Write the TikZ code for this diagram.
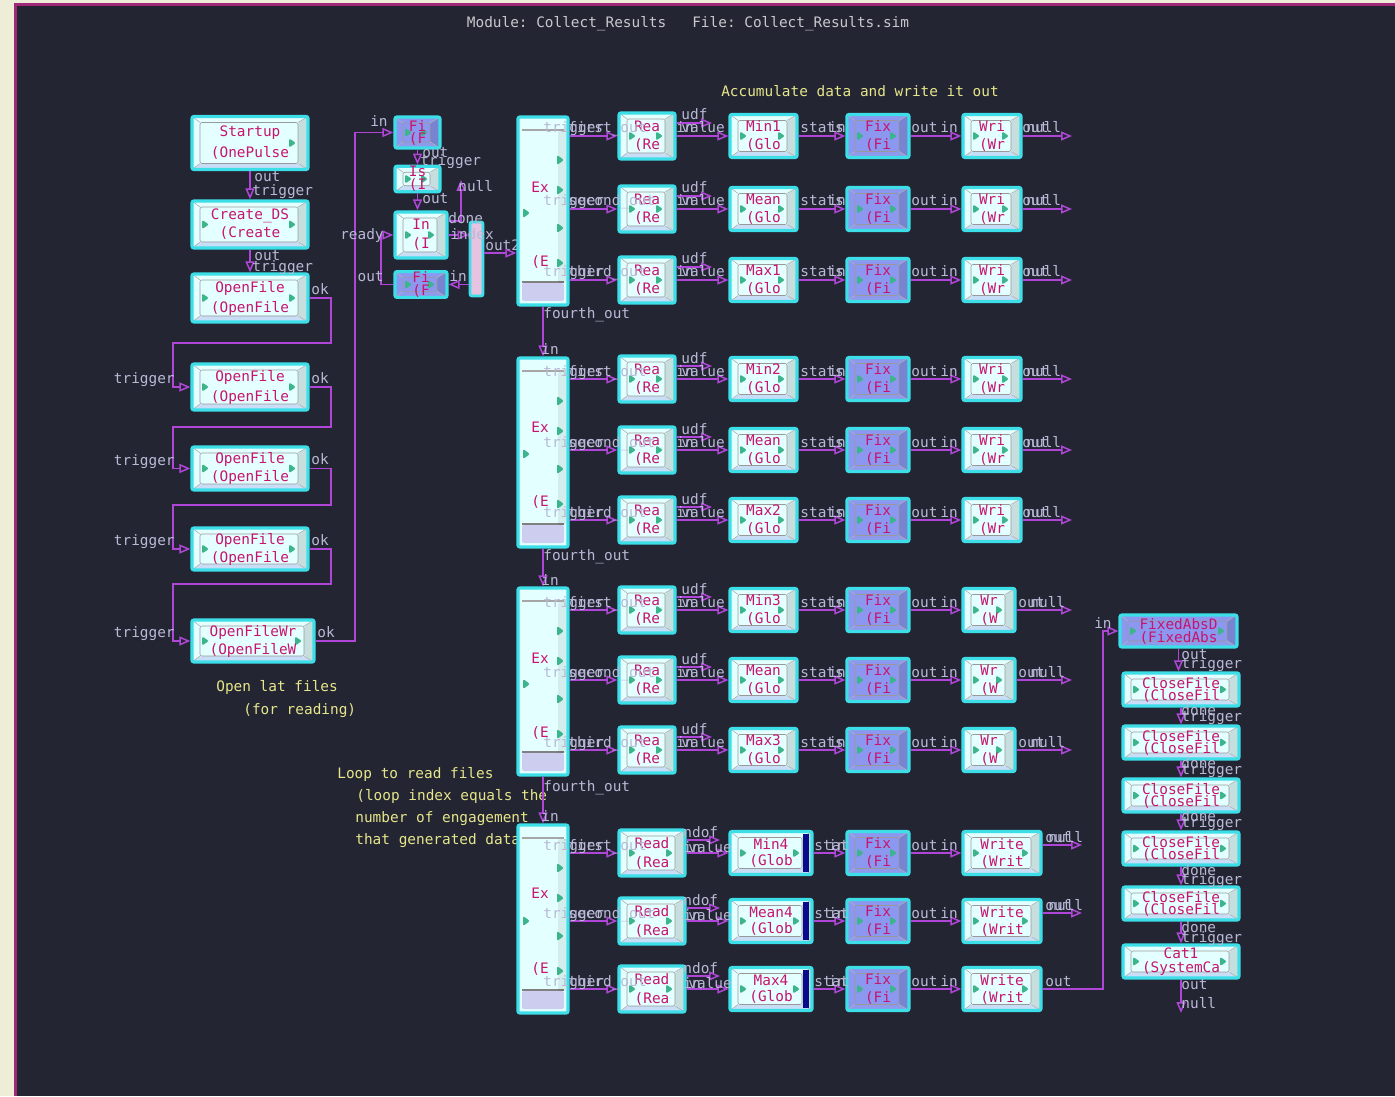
\documentclass[tikz,border=0pt]{standalone}
\usepackage{fontspec}
\newfontfamily\mono{DejaVu Sans Mono}
\usetikzlibrary{arrows.meta}
\frenchspacing
\definecolor{bgc}{RGB}{36,37,50}
\definecolor{beige}{RGB}{238,238,216}
\definecolor{framec}{RGB}{160,40,120}
\definecolor{cyanb}{RGB}{60,222,232}
\definecolor{boxf}{RGB}{228,255,255}
\definecolor{fixf}{RGB}{140,152,240}
\definecolor{boxt}{RGB}{200,20,110}
\definecolor{lblc}{RGB}{185,185,215}
\definecolor{wirec}{RGB}{175,70,215}
\definecolor{annc}{RGB}{230,230,140}
\definecolor{ttlc}{RGB}{200,200,205}
\definecolor{tric}{RGB}{60,180,140}
\definecolor{bevb}{RGB}{150,160,230}
\definecolor{exband}{RGB}{205,205,240}
\definecolor{barf}{RGB}{230,195,225}
\definecolor{navyc}{RGB}{10,10,140}
\newcommand\bevelpic[1]{%
\coordinate (PA) at (path picture bounding box.south west);
\coordinate (PB) at (path picture bounding box.north east);
\coordinate (PC) at (path picture bounding box.south east);
\coordinate (PD) at (path picture bounding box.north west);
\fill[black,opacity=.13] (PB) -- ([shift={(-5pt,-3pt)}]PB) -- ([shift={(-5pt,3pt)}]PC) -- (PC) -- cycle;
\fill[bevb,opacity=.35] (PA) -- ([shift={(4pt,3pt)}]PA) -- ([shift={(-5pt,3pt)}]PC) -- (PC) -- cycle;
\draw[black!40,line width=.3pt] ([shift={(4pt,3pt)}]PA) rectangle ([shift={(-5pt,-3pt)}]PB);
\draw[black!30,line width=.3pt] (PA) -- ([shift={(4pt,3pt)}]PA) (PB) -- ([shift={(-5pt,-3pt)}]PB) (PC) -- ([shift={(-5pt,3pt)}]PC) (PD) -- ([shift={(4pt,-3pt)}]PD);
\fill[tric] ([xshift=-6pt]path picture bounding box.east) -- ++(-3.5pt,2.3pt) -- ++(0,-4.6pt) -- cycle;
\ifnum#1=1 \fill[tric] ([xshift=8.5pt]path picture bounding box.west) -- ++(-3.5pt,2.3pt) -- ++(0,-4.6pt) -- cycle;\fi
}
\newcommand\expic{%
\coordinate (PA) at (path picture bounding box.south west);
\coordinate (PB) at (path picture bounding box.north east);
\coordinate (PC) at (path picture bounding box.south east);
\coordinate (PD) at (path picture bounding box.north west);
\fill[exband] ([shift={(2pt,2pt)}]PA) rectangle ([shift={(-2pt,11pt)}]PC);
\draw[black!50,line width=1pt] ([shift={(2pt,11.5pt)}]PA) -- ([shift={(-2pt,11.5pt)}]PC);
\draw[black!35,line width=1pt] ([shift={(2pt,-6.5pt)}]PD) -- ([shift={(-2pt,-6.5pt)}]PB);
\fill[black,opacity=.07] ([shift={(-5pt,-7pt)}]PB) rectangle ([shift={(-1pt,11pt)}]PC);
\foreach \o in {21.5,36.5,55.5,73}{\fill[tric] ([shift={(-2pt,-\o pt)}]PB) -- ++(-3.5pt,2.5pt) -- ++(0,-5pt) -- cycle;}
\fill[tric] ([shift={(6pt,-48pt)}]PD) -- ++(-3.5pt,2.5pt) -- ++(0,-5pt) -- cycle;
}
\tikzset{
  blk/.style={draw=cyanb, line width=1.6pt, rounded corners=1pt, fill=boxf, text=boxt,
    font=\mono\fontsize{7.2}{9}\selectfont, align=center, inner sep=0pt, path picture={\bevelpic{1}}},
  blkn/.style={blk, path picture={\bevelpic{0}}},
  fixb/.style={blk, fill=fixf},
  exb/.style={draw=cyanb, line width=1.6pt, rounded corners=1pt, fill=boxf, inner sep=0pt, path picture={\expic}},
  barb/.style={draw=cyanb, line width=1.4pt, rounded corners=1pt, fill=barf, inner sep=0pt},
  tight/.style={font=\mono\fontsize{7.2}{6}\selectfont},
  boxtxt/.style={text=boxt, font=\mono\fontsize{7.2}{9}\selectfont, inner sep=0pt},
  wire/.style={draw=wirec, line width=0.75pt},
  arr/.style={-{Triangle[open,length=5.5pt,width=4.5pt]}},
  lbl/.style={text=lblc, font=\mono\fontsize{7.2}{8}\selectfont, inner sep=0pt},
  ann/.style={text=annc, font=\mono\fontsize{7.2}{8}\selectfont, inner sep=0pt},
  ttl/.style={text=ttlc, font=\mono\fontsize{7.2}{8}\selectfont, inner sep=0pt}
}
\newcommand\myrow[6]{%
 \node[blk, minimum width=28pt, minimum height=23pt] (rea#1) at (647,#2) {Rea\\(Re};
 \node[blk, minimum width=33.5pt, minimum height=21.5pt] (st#1) at (763.5,#2) {#3\\(Glo};
 \node[fixb, minimum width=31pt, minimum height=21.5pt] (fx#1) at (878,#2) {Fix\\(Fi};
 \ifnum#6=0
   \node[blk, minimum width=29pt, minimum height=21.5pt] (wr#1) at (992,#2) {Wri\\(Wr};
 \else
   \node[blk, minimum width=26pt, minimum height=21.5pt] (wr#1) at (989,#2) {Wr\\(W};
 \fi
 \coordinate (udf#1) at (712,#2-13);
 \coordinate (nul#1) at (1072,#2);
 \draw[wire,arr] (#4.east |- rea#1.west) -- (rea#1.west);
 \draw[wire,arr] (rea#1.east |- udf#1) -- (udf#1);
 \draw[wire,arr] (rea#1.east) -- (st#1.west);
 \draw[wire,arr] (st#1.east) -- (fx#1.west);
 \draw[wire,arr] (fx#1.east) -- (wr#1.west);
 \draw[wire,arr] (wr#1.east) -- (nul#1);
 \node[lbl,anchor=base west] (ltr#1) at (543,#2-3) {trigger};
 \node[lbl,anchor=base west] (lfo#1) at (568,#2-3) {#5};
 \node[lbl,anchor=base west] (ludf#1) at (681,#2-16) {udf};
 \node[lbl,anchor=base west] (lin#1) at (676,#2-3) {in};
 \node[lbl,anchor=base west] (lval#1) at (681,#2-3) {value};
 \node[lbl,anchor=base west] (lst#1) at (800,#2-3) {stats};
 \node[lbl,anchor=base west] (lsi#1) at (828,#2-3) {in};
 \node[lbl,anchor=base west] (lfx#1) at (911,#2-3) {out};
 \node[lbl,anchor=base west] (lfi#1) at (940,#2-3) {in};
 \ifnum#6=0
   \node[lbl,anchor=base west] (lno#1) at (1022,#2-3) {out};
   \node[lbl,anchor=base west] (lnu#1) at (1026,#2-3) {null};
 \else
   \node[lbl,anchor=base west] (lno#1) at (1018,#2-3) {out};
   \node[lbl,anchor=base west] (lnu#1) at (1030,#2-3) {null};
 \fi
}
\newcommand\myrowb[5]{%
 \node[blk, minimum width=33pt, minimum height=23pt, font=\mono\fontsize{7.2}{9.5}\selectfont] (rea#1) at (652,#2) {Read\\(Rea};
 \node[blk, minimum width=41pt, minimum height=21.5pt, font=\mono\fontsize{7.2}{8}\selectfont] (st#1) at (771,#2) {#3\\(Glob};
 \fill[navyc] ([shift={(-5.5pt,-2pt)}]st#1.north east) rectangle ([shift={(-2.5pt,2pt)}]st#1.south east);
 \node[fixb, minimum width=31pt, minimum height=21.5pt] (fx#1) at (878,#2) {Fix\\(Fi};
 \node[blk, minimum width=39pt, minimum height=21.5pt, font=\mono\fontsize{7.2}{8.5}\selectfont] (wr#1) at (1002,#2) {Write\\(Writ};
 \coordinate (udf#1) at (720,#2-13);
 \draw[wire,arr] (ex4.east |- rea#1.west) -- (rea#1.west);
 \draw[wire,arr] (rea#1.east |- udf#1) -- (udf#1);
 \draw[wire,arr] (rea#1.east) -- (st#1.west);
 \draw[wire,arr] (st#1.east) -- (fx#1.west);
 \draw[wire,arr] (fx#1.east) -- (wr#1.west);
 \node[lbl,anchor=base west] (ltr#1) at (543,#2-3) {trigger};
 \node[lbl,anchor=base west] (lfo#1) at (568,#2-3) {#4};
 \node[lbl,anchor=base west] (ludf#1) at (683,#2-16) {ndof};
 \node[lbl,anchor=base west] (lin#1) at (683,#2-1) {in};
 \node[lbl,anchor=base west] (lval#1) at (688,#2-1) {value};
 \node[lbl,anchor=base west] (lst#1) at (814,#2-3) {stat};
 \node[lbl,anchor=base west] (lsi#1) at (828,#2-3) {in};
 \node[lbl,anchor=base west] (lfx#1) at (911,#2-3) {out};
 \node[lbl,anchor=base west] (lfi#1) at (940,#2-3) {in};
 \ifnum#5=0
   \coordinate (nul#1) at (1082,#2-8);
   \draw[wire,arr] (wr#1.east |- nul#1) -- (nul#1);
   \node[lbl,anchor=base west] (lno#1) at (1045,#2-11) {out};
   \node[lbl,anchor=base west] (lnu#1) at (1048,#2-11) {null};
 \else
   \node[lbl,anchor=base west] (lno#1) at (1045,#2-3) {out};
 \fi
}
\begin{document}
\begin{tikzpicture}[x=0.5pt,y=-0.5pt]
\useasboundingbox (0,0) rectangle (1395,1096);
\fill[beige] (0,0) rectangle (1395,1096);
\fill[bgc] (15,5) rectangle (1395,1096);
\draw[framec,line width=1.5pt] (15,1096) -- (15,5) -- (1395,5);
% title and annotations
\node[ttl] (title) at (688,24) {Module: Collect\_Results\ \ \ File: Collect\_Results.sim};
\node[ann] (acc) at (860,91) {Accumulate data and write it out};
\node[ann,anchor=base west] (ol1) at (216,691) {Open lat files};
\node[ann,anchor=base west] (ol2) at (243,714) {(for reading)};
\node[ann,anchor=base west] (lp1) at (337,778) {Loop to read files};
\node[ann,anchor=base west] (lp2) at (356,800) {(loop index equals the};
\node[ann,anchor=base west] (lp3) at (355,822) {number of engagement};
\node[ann,anchor=base west] (lp4) at (355,844) {that generated data)};
% left column
\node[blkn, minimum width=58pt, minimum height=26.5pt, font=\mono\fontsize{7.2}{10.5}\selectfont] (start) at (250,143) {Startup\\(OnePulse};
\node[blk, minimum width=58pt, minimum height=23.5pt] (cds) at (250,224.5) {Create\_DS\\(Create};
\node[blk, minimum width=58pt, minimum height=24pt, font=\mono\fontsize{7.2}{10}\selectfont] (of1) at (250,298) {OpenFile\\(OpenFile};
\node[blk, minimum width=58pt, minimum height=23pt, font=\mono\fontsize{7.2}{10}\selectfont] (of2) at (250,387) {OpenFile\\(OpenFile};
\node[blk, minimum width=58pt, minimum height=21.5pt] (of3) at (250,468.5) {OpenFile\\(OpenFile};
\node[blk, minimum width=58pt, minimum height=21pt] (of4) at (250,549) {OpenFile\\(OpenFile};
\node[blk, minimum width=61pt, minimum height=21pt] (ofw) at (253,641) {OpenFileWr\\(OpenFileW};
\draw[wire,arr] (start.south) -- (cds.north);
\draw[wire,arr] (cds.south) -- (of1.north);
\draw[wire,arr] (of1.east) -- (331,298) -- (331,343) -- (173,343) -- (173,387) -- (of2.west);
\draw[wire,arr] (of2.east) -- (331,387) -- (331,427) -- (173,427) -- (173,468.5) -- (of3.west);
\draw[wire,arr] (of3.east) -- (331,468.5) -- (331,505) -- (173,505) -- (173,549) -- (of4.west);
\draw[wire,arr] (of4.east) -- (331,549) -- (331,584) -- (173,584) -- (173,641) -- (ofw.west);
\node[lbl,anchor=base west] (so) at (254,182) {out};
\node[lbl,anchor=base west] (st) at (252,196) {trigger};
\node[lbl,anchor=base west] (co) at (254,261) {out};
\node[lbl,anchor=base west] (ct) at (252,271) {trigger};
\node[lbl,anchor=base west] (ok1) at (311,294) {ok};
\node[lbl,anchor=base west] (ok2) at (311,383) {ok};
\node[lbl,anchor=base west] (ok3) at (311,464) {ok};
\node[lbl,anchor=base west] (ok4) at (311,545) {ok};
\node[lbl,anchor=base west] (ok5) at (317,637) {ok};
\node[lbl,anchor=base east] (tg2) at (175,383) {trigger};
\node[lbl,anchor=base east] (tg3) at (175,465) {trigger};
\node[lbl,anchor=base east] (tg4) at (175,545) {trigger};
\node[lbl,anchor=base east] (tg5) at (175,637) {trigger};
% middle cluster
\node[fixb, tight, minimum width=22.5pt, minimum height=15.5pt] (fi1) at (417.5,132.5) {Fi\\(F};
\node[blk, minimum width=22.5pt, minimum height=11pt, font=\mono\fontsize{7.2}{4}\selectfont] (is1) at (417.5,179) {Is\\(I};
\node[blk, minimum width=26pt, minimum height=23pt, font=\mono\fontsize{7.2}{9.5}\selectfont] (in1) at (421,235) {In\\(I};
\node[barb, minimum width=6.5pt, minimum height=37pt] (bar) at (476.5,259) {};
\node[fixb, minimum width=26pt, minimum height=11.5pt, font=\mono\fontsize{7.2}{3.5}\selectfont] (fb) at (421,284.5) {Fi\\(F};
\draw[wire,arr] (ofw.east) -- (355,641) -- (355,132.5) -- (fi1.west);
\draw[wire,arr] (fi1.south) -- (is1.north);
\draw[wire,arr] (is1.south) -- (is1.south |- in1.north);
\coordinate (nullpt) at (461,180);
\draw[wire,arr] ([yshift=7pt]in1.east) -| (nullpt);
\draw[wire,arr] (in1.east) -- (in1.east -| bar.west);
\draw[wire,arr] (bar.west |- fb.east) -- (fb.east);
\draw[wire,arr] (fb.west) -- (381,284.5) -- (381,235) -- (in1.west);
\node[lbl,anchor=base east] (fin) at (388,127) {in};
\node[lbl,anchor=base west] (fout) at (422,158) {out};
\node[lbl,anchor=base west] (ftrig) at (420,166) {trigger};
\node[lbl,anchor=base west] (fnull) at (458,192) {null};
\node[lbl,anchor=base west] (iout) at (422,204) {out};
\node[lbl,anchor=base west] (idone) at (448,224) {done};
\node[lbl,anchor=base west] (iidx) at (450,240) {index};
\node[lbl,anchor=base west] (bout2) at (485,251) {out2};
\node[lbl,anchor=base east] (iready) at (384,240) {ready};
\node[lbl,anchor=base east] (fbout) at (384,282) {out};
\node[lbl,anchor=base west] (fbin) at (449,282) {in};
% Ex boxes
\node[exb, minimum width=25pt, minimum height=94pt] (ex1) at (543,211) {};
\node[exb, minimum width=25pt, minimum height=94.5pt] (ex2) at (543,452.5) {};
\node[exb, minimum width=25pt, minimum height=93.5pt] (ex3) at (543,681.5) {};
\node[exb, minimum width=25pt, minimum height=94pt] (ex4) at (543,919) {};
\draw[wire,arr] ([yshift=3pt]bar.east) -- ([yshift=3pt]bar.east -| ex1.west);
\node[boxtxt] (ex1a) at (540,187) {Ex};
\node[boxtxt] (ex1b) at (540,262) {(E};
\node[boxtxt] (ex2a) at (540,427) {Ex};
\node[boxtxt] (ex2b) at (540,502) {(E};
\node[boxtxt] (ex3a) at (540,658) {Ex};
\node[boxtxt] (ex3b) at (540,733) {(E};
\node[boxtxt] (ex4a) at (540,893) {Ex};
\node[boxtxt] (ex4b) at (540,969) {(E};
\draw[wire,arr] (ex1.south) -- (ex2.north);
\draw[wire,arr] (ex2.south) -- (ex3.north);
\draw[wire,arr] (ex3.south) -- (ex4.north);
\node[lbl,anchor=base west] (fo1) at (543,319) {fourth\_out};
\node[lbl,anchor=base west] (in2) at (541,354) {in};
\node[lbl,anchor=base west] (fo2) at (543,560) {fourth\_out};
\node[lbl,anchor=base west] (in3) at (541,585) {in};
\node[lbl,anchor=base west] (fo3) at (543,791) {fourth\_out};
\node[lbl,anchor=base west] (in4) at (541,821) {in};
% rows
\myrow{11}{136}{Min1}{ex1}{first\_out}{0}
\myrow{12}{209}{Mean}{ex1}{second\_out}{0}
\myrow{13}{280}{Max1}{ex1}{third\_out}{0}
\myrow{21}{379}{Min2}{ex2}{first\_out}{0}
\myrow{22}{450}{Mean}{ex2}{second\_out}{0}
\myrow{23}{520}{Max2}{ex2}{third\_out}{0}
\myrow{31}{610}{Min3}{ex3}{first\_out}{1}
\myrow{32}{680}{Mean}{ex3}{second\_out}{1}
\myrow{33}{750}{Max3}{ex3}{third\_out}{1}
\myrowb{41}{853}{Min4}{first\_out}{0}
\myrowb{42}{921}{Mean4}{second\_out}{0}
\myrowb{43}{989}{Max4}{third\_out}{1}
% right column
\node[fixb, font=\mono\fontsize{7.2}{6.5}\selectfont, minimum width=58.5pt, minimum height=16pt] (fabs) at (1178.5,631) {FixedAbsD\\(FixedAbs};
\node[blk, tight, minimum width=58pt, minimum height=16.5pt] (cf1) at (1181,689.5) {CloseFile\\(CloseFil};
\node[blk, tight, minimum width=58pt, minimum height=16.5pt] (cf2) at (1181,742.5) {CloseFile\\(CloseFil};
\node[blk, tight, minimum width=58pt, minimum height=16.5pt] (cf3) at (1181,795.5) {CloseFile\\(CloseFil};
\node[blk, tight, minimum width=58pt, minimum height=16.5pt] (cf4) at (1181,848.5) {CloseFile\\(CloseFil};
\node[blk, tight, minimum width=58pt, minimum height=16.5pt] (cf5) at (1181,903.5) {CloseFile\\(CloseFil};
\node[blk, font=\mono\fontsize{7.2}{7}\selectfont, minimum width=58pt, minimum height=16.5pt] (cat) at (1181,961.5) {Cat1\\(SystemCa};
\draw[wire,arr] (wr43.east) -- (1103,989) -- (1103,631) -- (fabs.west);
\draw[wire,arr] (fabs.south) -- (fabs.south |- cf1.north);
\draw[wire,arr] (cf1.south) -- (cf2.north);
\draw[wire,arr] (cf2.south) -- (cf3.north);
\draw[wire,arr] (cf3.south) -- (cf4.north);
\draw[wire,arr] (cf4.south) -- (cf5.north);
\draw[wire,arr] (cf5.south) -- (cat.north);
\coordinate (catnull) at (1181,1013);
\draw[wire,arr] (cat.south) -- (catnull);
\node[lbl,anchor=base east] (lfin) at (1112,628) {in};
\node[lbl,anchor=base west] (lfo) at (1181,659) {out};
\node[lbl,anchor=base west] (lft) at (1181,668) {trigger};
\foreach \i/\a/\b in {1/715/721,2/768/774,3/821/827,4/875/884,5/932/942}{
  \node[lbl,anchor=base west] (ld\i) at (1181,\a) {done};
  \node[lbl,anchor=base west] (lt\i) at (1181,\b) {trigger};
}
\node[lbl,anchor=base west] (lco) at (1181,989) {out};
\node[lbl,anchor=base west] (lcn) at (1181,1008) {null};
\end{tikzpicture}
\end{document}
